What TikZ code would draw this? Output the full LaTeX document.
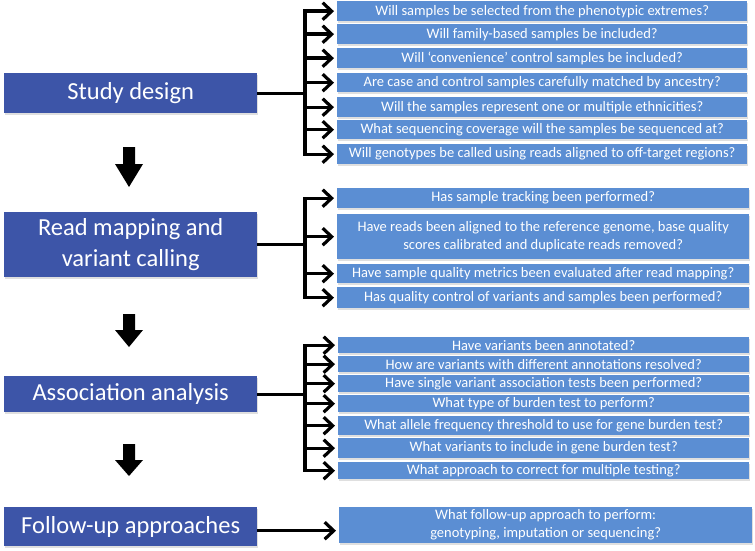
\documentclass[tikz,border=0pt]{standalone}
\usepackage{fontspec}
\setmainfont{Carlito}
\usetikzlibrary{arrows.meta,shadows}
\definecolor{darkbox}{RGB}{61,85,168}
\definecolor{lightbox}{RGB}{91,142,211}
\tikzset{
  stage/.style={fill=darkbox, text=white, font=\fontsize{24.5}{31}\selectfont, align=center, anchor=north west, inner sep=0pt,
    drop shadow={opacity=0.25, shadow xshift=1pt, shadow yshift=-2pt}},
  question/.style={fill=lightbox, text=white, font=\fontsize{14.5}{18}\selectfont, align=center, anchor=north west, inner sep=0pt,
    drop shadow={opacity=0.25, shadow xshift=1pt, shadow yshift=-2pt}},
  conn/.style={line width=3.4pt, -{Straight Barb[length=9pt,width=17pt,line width=3.2pt]}, shorten >=3pt},
}
\newcommand{\qbox}[5]{\node[question, minimum width=#3, minimum height=#4] (#1) at (#2) {#5};}
\begin{document}
\begin{tikzpicture}[x=1pt,y=-1pt]
\useasboundingbox (0,0) rectangle (755,551);
% stage boxes
\node[stage, minimum width=253pt, minimum height=40pt] (sd) at (4,73) {Study design};
\node[stage, minimum width=253pt, minimum height=65pt] (rm) at (4,212) {Read mapping and\\variant calling};
\node[stage, minimum width=253pt, minimum height=36pt] (aa) at (4,376) {Association analysis};
\node[stage, minimum width=253pt, minimum height=39pt] (fu) at (4,507) {Follow-up approaches};
\coordinate (sp) at (305,0);
% section 1
\qbox{a1}{337,1}{410pt}{20pt}{Will samples be selected from the phenotypic extremes?}
\qbox{a2}{337,24}{410pt}{20pt}{Will family-based samples be included?}
\qbox{a3}{337,48}{410pt}{20pt}{Will ‘convenience’ control samples be included?}
\qbox{a4}{337,73}{410pt}{19pt}{Are case and control samples carefully matched by ancestry?}
\qbox{a5}{337,97}{410pt}{20pt}{Will the samples represent one or multiple ethnicities?}
\qbox{a6}{337,120}{410pt}{19pt}{What sequencing coverage will the samples be sequenced at?}
\qbox{a7}{337,144}{410pt}{20pt}{Will genotypes be called using reads aligned to off-target regions?}
% section 2
\qbox{b1}{337,188}{412pt}{20pt}{Has sample tracking been performed?}
\qbox{b2}{337,214}{412pt}{45pt}{Have reads been aligned to the reference genome, base quality\\scores calibrated and duplicate reads removed?}
\qbox{b3}{337,264}{412pt}{19pt}{Have sample quality metrics been evaluated after read mapping?}
\qbox{b4}{337,287}{412pt}{21pt}{Has quality control of variants and samples been performed?}
% section 3
\qbox{c1}{338,337}{411pt}{16pt}{Have variants been annotated?}
\qbox{c2}{338,356}{411pt}{16pt}{How are variants with different annotations resolved?}
\qbox{c3}{338,375}{411pt}{17pt}{Have single variant association tests been performed?}
\qbox{c4}{338,395}{411pt}{17pt}{What type of burden test to perform?}
\qbox{c5}{338,416}{411pt}{19pt}{What allele frequency threshold to use for gene burden test?}
\qbox{c6}{338,438}{411pt}{20pt}{What variants to include in gene burden test?}
\qbox{c7}{338,462}{411pt}{17pt}{What approach to correct for multiple testing?}
% section 4
\qbox{d1}{339,507}{413pt}{36pt}{What follow-up approach to perform:\\genotyping, imputation or sequencing?}
% connectors
\foreach \t in {a1,a2,a3,a4,a5,a6,a7}{\draw[conn] (sd.east) -- (sd.east -| sp) |- (\t.west);}
\foreach \t in {b1,b2,b3,b4}{\draw[conn] (rm.east) -- (rm.east -| sp) |- (\t.west);}
\foreach \t in {c1,c2,c3,c4,c5,c6,c7}{\draw[conn] (aa.east) -- (aa.east -| sp) |- (\t.west);}
\draw[conn] ([yshift=-4pt]fu.east) -- ([yshift=-4pt]fu.east -| d1.west);
% down arrows
\foreach \yt/\yh/\yb in {147/164/187, 314/330/347, 444/460/476}{
  \fill (123,\yt) -- (135,\yt) -- (135,\yh) -- (143,\yh) -- (129,\yb) -- (115,\yh) -- (123,\yh) -- cycle;
}
\end{tikzpicture}
\end{document}
